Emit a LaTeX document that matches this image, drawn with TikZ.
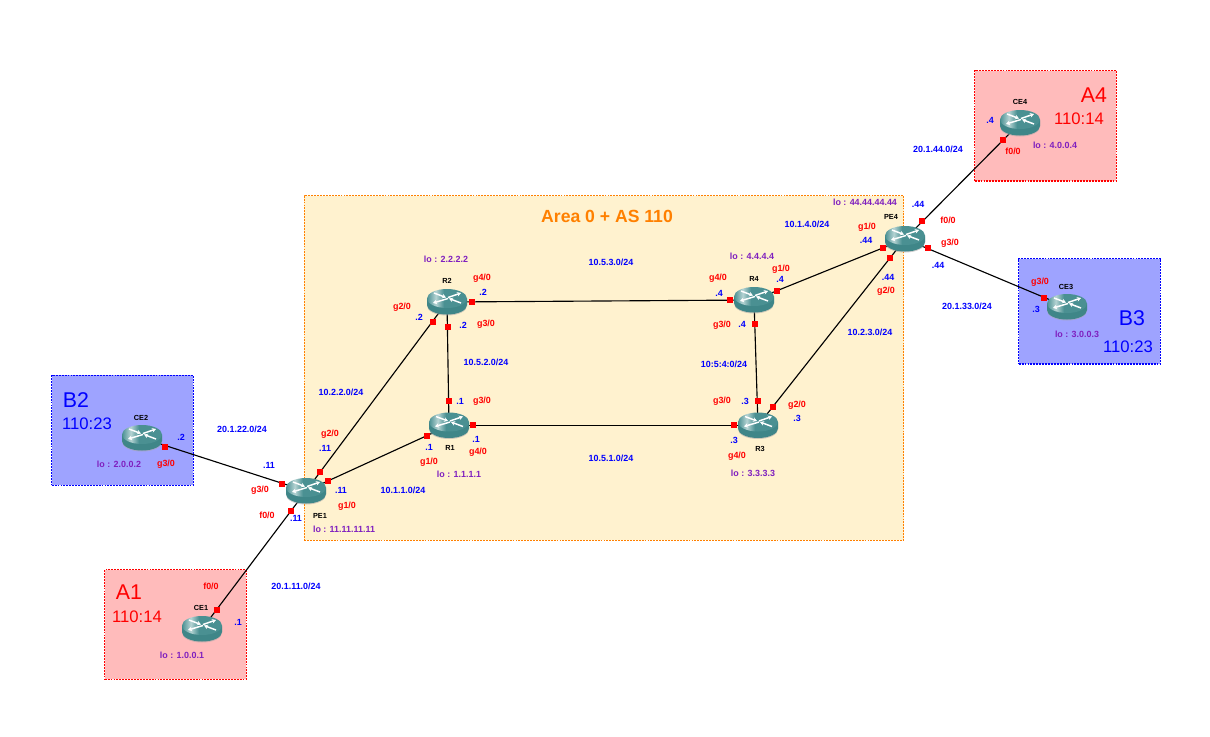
\documentclass[tikz,border=0pt]{standalone}
\usepackage{fontspec}
\setmainfont{Liberation Sans}
\usetikzlibrary{arrows.meta}
\definecolor{routerbody}{HTML}{3F8688}
\definecolor{routertop}{HTML}{4A9092}
\definecolor{routerlight}{HTML}{B5D3D3}
\definecolor{areafill}{HTML}{FFF2CF}
\definecolor{arealine}{HTML}{FF8000}
\definecolor{redfill}{HTML}{FFBBBB}
\definecolor{bluefill}{HTML}{9EA3FF}
\definecolor{lblblue}{HTML}{0000FF}
\definecolor{lblpurple}{HTML}{7F1FBF}
\pgfdeclarehorizontalshading{routershade}{100bp}{
  color(0bp)=(routertop); color(25bp)=(routertop); color(36bp)=(routerlight);
  color(46bp)=(routertop); color(100bp)=(routertop)}
\tikzset{
  x=0.75pt,y=-0.75pt,
  dotline/.style={dash pattern=on 1.4pt off 0.8pt,line width=0.8pt,inner sep=0pt},
  siteA/.style={draw=red,fill=redfill,dotline},
  siteB/.style={draw=blue,fill=bluefill,dotline},
  areabox/.style={draw=arealine,fill=areafill,dotline,line width=0.7pt},
  link/.style={draw=black,line width=0.85pt},
  port/.style={fill=red,minimum size=5.2pt,inner sep=0pt,outer sep=0pt},
  routernode/.style={minimum width=30pt,minimum height=19.5pt,inner sep=0pt},
  txt/.style={inner sep=0pt,font=\fontsize{6.7}{7}\selectfont\bfseries},
  net/.style={txt,text=lblblue},
  ifc/.style={txt,text=red},
  loop/.style={txt,text=lblpurple},
  hostname/.style={txt,text=black,font=\fontsize{5.5}{6}\selectfont\bfseries},
  bigA/.style={inner sep=0pt,text=red,font=\fontsize{16}{18}\selectfont},
  bigB/.style={inner sep=0pt,text=blue,font=\fontsize{16}{18}\selectfont},
  rtA/.style={inner sep=0pt,text=red,font=\fontsize{12.5}{14}\selectfont},
  rtB/.style={inner sep=0pt,text=blue,font=\fontsize{12.5}{14}\selectfont},
  areatitle/.style={inner sep=0pt,text=arealine,font=\fontsize{13.2}{15}\selectfont\bfseries},
  arrowline/.style={white,line width=1.1pt,-{Stealth[length=3pt,width=3.4pt]}},
}
\newcount\labn
\newcommand{\lab}[4]{\global\advance\labn by 1 \node[#1] (lab\the\labn) at (#2,#3) {#4};}
\newcommand{\routericon}[1]{%
  \begin{scope}[shift={(#1.center)}]
  \fill[black!35,opacity=.55] (-20,-2.5) -- ++(0,6.5) arc[start angle=180,end angle=0,x radius=20,y radius=9.5] -- ++(0,-6.5) -- cycle;
  \fill[routerbody] (-20,-3.5) -- ++(0,6.5) arc[start angle=180,end angle=0,x radius=20,y radius=9.5] -- ++(0,-6.5) -- cycle;
  \shade[shading=routershade] (0,-3.5) ellipse[x radius=20,y radius=9.5];
  \draw[arrowline] (-13,-9) -- (-1,-4.5);
  \draw[arrowline] (1,-3.5) -- (-14,1);
  \draw[arrowline] (1,-4.5) -- (14,-9);
  \draw[arrowline] (14,1) -- (2,-3.5);
  \end{scope}
}
\begin{document}
\begin{tikzpicture}
\useasboundingbox (0,0) rectangle (1210,736);
% regions
\node[areabox,minimum width=449.5pt,minimum height=258.2pt] (area0) at (604,367.85) {};
\node[siteB,minimum width=106.2pt,minimum height=82.5pt] (siteB2) at (122.5,430.3) {};
\node[siteA,minimum width=106.2pt,minimum height=82.2pt] (siteA1) at (175.5,624.5) {};
\node[siteA,minimum width=106.2pt,minimum height=82.7pt] (siteA4) at (1045.5,125.85) {};
\node[siteB,minimum width=106.2pt,minimum height=79pt] (siteB3) at (1089.5,311.35) {};
% router nodes
\node[routernode] (CE1) at (202,629) {};
\node[routernode] (CE2) at (142,438) {};
\node[routernode] (CE3) at (1067,307) {};
\node[routernode] (CE4) at (1020,123) {};
\node[routernode] (PE1) at (306,491) {};
\node[routernode] (PE4) at (905,239) {};
\node[routernode] (R1) at (449,425.5) {};
\node[routernode] (R2) at (447,302) {};
\node[routernode] (R3) at (758,425.5) {};
\node[routernode] (R4) at (754,300) {};
% links
\draw[link] (CE2.center) -- (PE1.center);
\draw[link] (CE1.center) -- (PE1.center);
\draw[link] (PE1.center) -- (R2.center);
\draw[link] (PE1.center) -- (R1.center);
\draw[link] (R2.center) -- (R1.center);
\draw[link] (R2.center) -- (R4.center);
\draw[link] (R1.center) -- (R3.center);
\draw[link] (R4.center) -- (R3.center);
\draw[link] (R4.center) -- (PE4.center);
\draw[link] (R3.center) -- (PE4.center);
\draw[link] (PE4.center) -- (CE4.center);
\draw[link] (PE4.center) -- (CE3.center);
% router icons
\foreach \r in {CE1,CE2,CE3,CE4,PE1,PE4,R1,R2,R3,R4} {\routericon{\r}}
% ports
\foreach \n/\x/\y in {p1/165/447,p2/282/484,p3/291/511,p4/217/610,p5/320/472,p6/433/322,p7/328/481,p8/427/436,p9/449/401,p10/448/327,p11/472/302,p12/730/300,p13/473/425,p14/734/425,p15/777/291,p16/883/248,p17/755/324,p18/758/401,p19/773/407,p20/890/258,p21/922/221,p22/1003/140,p23/928/248,p24/1044/298}
  \node[port] (\n) at (\x,\y) {};
% big titles
\lab{areatitle}{607}{216}{Area 0 + AS 110}
\lab{bigB}{76}{400}{B2}
\lab{rtB}{87}{424}{110:23}
\lab{bigA}{129}{592}{A1}
\lab{rtA}{137}{617}{110:14}
\lab{bigA}{1094}{95}{A4}
\lab{rtA}{1079}{119}{110:14}
\lab{bigB}{1132}{318}{B3}
\lab{rtB}{1128}{347}{110:23}
% hostnames
\lab{hostname}{141}{418}{CE2}
\lab{hostname}{201}{608}{CE1}
\lab{hostname}{320}{516}{PE1}
\lab{hostname}{447}{281}{R2}
\lab{hostname}{450}{448}{R1}
\lab{hostname}{754}{279}{R4}
\lab{hostname}{760}{449}{R3}
\lab{hostname}{891}{217}{PE4}
\lab{hostname}{1020}{102}{CE4}
\lab{hostname}{1066}{287}{CE3}
% loopbacks
\lab{loop}{119}{464}{lo : 2.0.0.2}
\lab{loop}{182}{655}{lo : 1.0.0.1}
\lab{loop}{344}{529}{lo : 11.11.11.11}
\lab{loop}{446}{259}{lo : 2.2.2.2}
\lab{loop}{459}{474}{lo : 1.1.1.1}
\lab{loop}{752}{256}{lo : 4.4.4.4}
\lab{loop}{753}{473}{lo : 3.3.3.3}
\lab{loop}{865}{202}{lo : 44.44.44.44}
\lab{loop}{1055}{145}{lo : 4.0.0.4}
\lab{loop}{1077}{334}{lo : 3.0.0.3}
% networks
\lab{net}{242}{429}{20.1.22.0/24}
\lab{net}{296}{586}{20.1.11.0/24}
\lab{net}{341}{392}{10.2.2.0/24}
\lab{net}{403}{490}{10.1.1.0/24}
\lab{net}{486}{362}{10.5.2.0/24}
\lab{net}{611}{262}{10.5.3.0/24}
\lab{net}{611}{458}{10.5.1.0/24}
\lab{net}{724}{364}{10:5:4:0/24}
\lab{net}{807}{224}{10.1.4.0/24}
\lab{net}{870}{332}{10.2.3.0/24}
\lab{net}{938}{149}{20.1.44.0/24}
\lab{net}{967}{306}{20.1.33.0/24}
% host addresses
\lab{net}{181}{437}{.2}
\lab{net}{269}{465}{.11}
\lab{net}{296}{518}{.11}
\lab{net}{341}{490}{.11}
\lab{net}{325}{448}{.11}
\lab{net}{238}{622}{.1}
\lab{net}{483}{292}{.2}
\lab{net}{419}{317}{.2}
\lab{net}{463}{325}{.2}
\lab{net}{460}{401}{.1}
\lab{net}{476}{439}{.1}
\lab{net}{429}{447}{.1}
\lab{net}{780}{279}{.4}
\lab{net}{719}{293}{.4}
\lab{net}{742}{324}{.4}
\lab{net}{745}{401}{.3}
\lab{net}{797}{418}{.3}
\lab{net}{734}{440}{.3}
\lab{net}{866}{240}{.44}
\lab{net}{918}{204}{.44}
\lab{net}{938}{265}{.44}
\lab{net}{888}{277}{.44}
\lab{net}{990}{120}{.4}
\lab{net}{1036}{309}{.3}
% interfaces
\lab{ifc}{166}{464}{g3/0}
\lab{ifc}{260}{490}{g3/0}
\lab{ifc}{267}{515}{f0/0}
\lab{ifc}{347}{506}{g1/0}
\lab{ifc}{330}{434}{g2/0}
\lab{ifc}{211}{586}{f0/0}
\lab{ifc}{482}{278}{g4/0}
\lab{ifc}{402}{307}{g2/0}
\lab{ifc}{486}{324}{g3/0}
\lab{ifc}{482}{401}{g3/0}
\lab{ifc}{478}{452}{g4/0}
\lab{ifc}{429}{462}{g1/0}
\lab{ifc}{781}{269}{g1/0}
\lab{ifc}{718}{278}{g4/0}
\lab{ifc}{722}{325}{g3/0}
\lab{ifc}{722}{401}{g3/0}
\lab{ifc}{797}{405}{g2/0}
\lab{ifc}{737}{456}{g4/0}
\lab{ifc}{867}{227}{g1/0}
\lab{ifc}{948}{220}{f0/0}
\lab{ifc}{950}{243}{g3/0}
\lab{ifc}{886}{291}{g2/0}
\lab{ifc}{1013}{151}{f0/0}
\lab{ifc}{1040}{282}{g3/0}
\end{tikzpicture}
\end{document}
